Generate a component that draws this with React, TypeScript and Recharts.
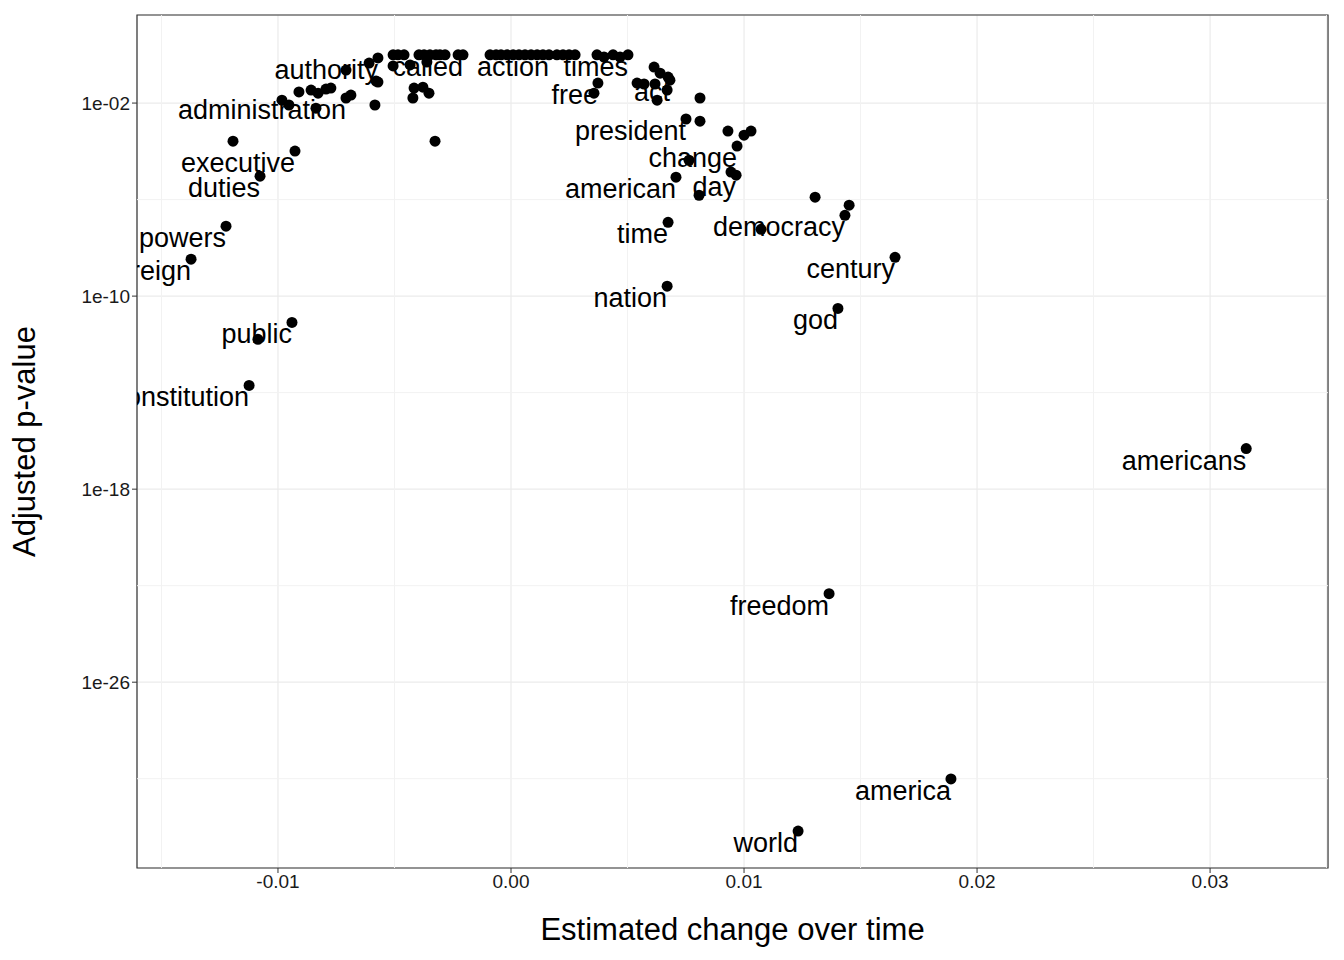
import React from 'react'
import {
  ScatterChart, Scatter, XAxis, YAxis, CartesianGrid,
  ReferenceLine, ReferenceArea, LabelList,
} from 'recharts'

// top row of words whose adjusted p-value is 1
const topRowX = [
  -0.00506, -0.00485, -0.00459, -0.00395, -0.00373, -0.00348, -0.00322, -0.00305,
  -0.00283, -0.00227, -0.00206, -0.0009, -0.00064, -0.00043, -0.00017, 0.00009,
  0.00034, 0.0006, 0.00086, 0.00112, 0.00137, 0.00163, 0.00197, 0.00223, 0.00249,
  0.00275, 0.00369, 0.00438, 0.00502,
]
const topRowLabels: Record<number, string> = {
  [-0.00206]: 'called', [0.00163]: 'action', [0.00502]: 'times',
}

// other words: [estimate, log10 p-value, label]
const otherWords: [number, number, string][] = [
  [-0.00571, -0.13, 'authority'], [-0.00609, -0.34, ''], [-0.00708, -0.63, ''],
  [-0.00579, -1.09, ''], [-0.00571, -1.13, ''], [-0.00687, -1.67, ''],
  [-0.00708, -1.79, 'administration'], [-0.00584, -2.08, ''],
  [-0.00983, -1.88, ''], [-0.00953, -2.08, ''], [-0.0091, -1.54, ''],
  [-0.00858, -1.46, ''], [-0.00828, -1.59, ''], [-0.00794, -1.42, ''],
  [-0.00773, -1.38, ''], [-0.00837, -2.21, ''],
  [-0.01193, -3.58, ''], [-0.00927, -3.99, 'executive'], [-0.01077, -5.03, 'duties'],
  [-0.01223, -7.1, 'powers'], [-0.01373, -8.47, 'sovereign'],
  [-0.0094, -11.09, 'public'], [-0.01086, -11.79, ''], [-0.01124, -13.7, 'constitution'],
  [-0.00506, -0.46, ''], [-0.00433, -0.42, ''], [-0.00416, -1.38, ''],
  [-0.00421, -1.79, ''], [-0.00378, -1.34, ''], [-0.00352, -1.59, ''],
  [-0.00361, -0.3, ''], [-0.00326, -3.58, ''],
  [0.00373, -1.17, 'free'], [0.00356, -1.59, ''], [0.00399, -0.09, ''],
  [0.00468, -0.09, ''], [0.00541, -1.17, ''], [0.00571, -1.21, ''],
  [0.00614, -0.51, ''], [0.0064, -0.76, ''], [0.00674, -0.92, ''],
  [0.00682, -1.05, 'act'], [0.00618, -1.21, ''], [0.0067, -1.46, ''],
  [0.00627, -1.88, ''], [0.00811, -1.79, ''], [0.00751, -2.66, 'president'],
  [0.00811, -2.75, ''], [0.00931, -3.16, ''], [0.01, -3.33, ''], [0.0103, -3.16, ''],
  [0.0097, -3.78, 'change'], [0.00764, -4.37, ''], [0.00944, -4.86, ''],
  [0.00966, -4.99, 'day'], [0.00708, -5.07, 'american'], [0.00807, -5.82, ''],
  [0.01305, -5.9, ''], [0.01451, -6.23, ''], [0.01433, -6.65, 'democracy'],
  [0.01073, -7.23, ''], [0.00674, -6.94, 'time'], [0.01648, -8.39, 'century'],
  [0.0067, -9.59, 'nation'], [0.01403, -10.51, 'god'], [0.03155, -16.32, 'americans'],
  [0.01365, -22.33, 'freedom'], [0.01888, -30.01, 'america'], [0.01232, -32.17, 'world'],
]

const xTicks = [-0.01, 0, 0.01, 0.02, 0.03]
const xMinor = [-0.015, -0.005, 0.005, 0.015, 0.025, 0.035]
const yTicks = [1e-26, 1e-18, 1e-10, 1e-2]
const yMinor = [1e-30, 1e-22, 1e-14, 1e-6]

const data = [
  ...topRowX.map((x) => ({ x, p: 1, label: topRowLabels[x] ?? '' })),
  ...otherWords.map(([x, lp, label]) => ({ x, p: Math.pow(10, lp), label })),
]

const xDomain = [-0.01605, 0.03506]
const yDomain = [Math.pow(10, -33.7), Math.pow(10, 1.65)]

const fmtY = (v: number) => {
  const e = Math.round(Math.log10(v))
  return '1e' + (e < 0 ? '-' : '+') + String(Math.abs(e)).padStart(2, '0')
}
const fmtX = (v: number) => v.toFixed(2)

const font = 'Liberation Sans, Arial, sans-serif'

const WordLabel = (props: any) => {
  const { x, y, width, height, value } = props
  if (!value) return null
  const cx = x + (width ?? 0) / 2
  const cy = y + (height ?? 0) / 2
  return (
    <text x={cx} y={cy + 12} textAnchor="end" dominantBaseline="central"
      fontSize={27} fontFamily={font} fill="#000" clipPath="url(#plotclip)">
      {value}
    </text>
  )
}

export default function App() {
  return (
    <div style={{ position: 'absolute', left: 0, top: 0, background: '#fff' }}>
      <ScatterChart width={1344} height={960} margin={{ top: 15, right: 16, left: 0, bottom: 0 }}>
        <defs>
          <clipPath id="plotclip">
            <rect x={137} y={15} width={1191} height={853} />
          </clipPath>
        </defs>
        <CartesianGrid stroke="#ebebeb" strokeWidth={1.2} />
        {xMinor.map((v) => (
          <ReferenceLine key={'x' + v} x={v} stroke="#f2f2f2" strokeWidth={1} ifOverflow="hidden" />
        ))}
        {yMinor.map((v) => (
          <ReferenceLine key={'y' + v} y={v} stroke="#f2f2f2" strokeWidth={1} ifOverflow="hidden" />
        ))}
        <XAxis type="number" dataKey="x" domain={xDomain} allowDataOverflow ticks={xTicks}
          tickFormatter={fmtX} height={92} tickSize={5} axisLine={false}
          tickLine={{ stroke: '#333' }} tick={{ fill: '#1a1a1a', fontSize: 19, fontFamily: font }}
          label={{ value: 'Estimated change over time', position: 'insideBottom', offset: 20,
            style: { fontSize: 31, fill: '#000', fontFamily: font } }} />
        <YAxis type="number" dataKey="p" scale="log" domain={yDomain} allowDataOverflow
          ticks={yTicks} tickFormatter={fmtY} width={137} tickSize={5} axisLine={false}
          tickLine={{ stroke: '#333' }} tick={{ fill: '#1a1a1a', fontSize: 19, fontFamily: font }}
          label={{ value: 'Adjusted p-value', angle: -90, position: 'insideLeft', offset: 24,
            style: { fontSize: 31, fill: '#000', fontFamily: font, textAnchor: 'middle' } }} />
        <ReferenceArea x1={xDomain[0]} x2={xDomain[1]} y1={yDomain[0]} y2={yDomain[1]}
          fill="none" stroke="#333" strokeWidth={1.2} ifOverflow="extendDomain" />
        <Scatter data={data} isAnimationActive={false}
          shape={(p: any) => <circle cx={p.cx} cy={p.cy} r={5.5} fill="#000" />}>
          <LabelList dataKey="label" content={WordLabel} />
        </Scatter>
      </ScatterChart>
    </div>
  )
}
